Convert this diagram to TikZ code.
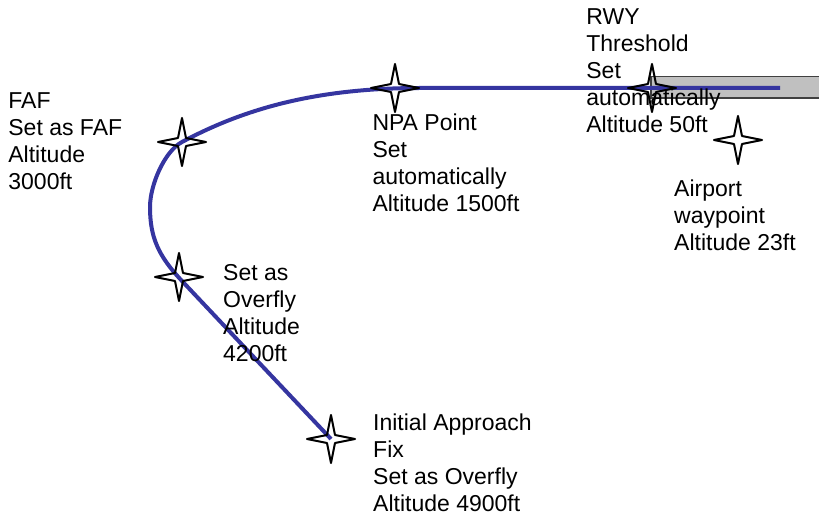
\documentclass[tikz,border=0pt]{standalone}
\usepackage{fontspec}
\setmainfont{Liberation Sans}
\definecolor{routeblue}{HTML}{3535A0}
\definecolor{runwaygray}{HTML}{C0C0C0}
\begin{document}
\begin{tikzpicture}[x=1pt,y=-1pt,
  route/.style={draw=routeblue, line width=4pt},
  starline/.style={draw=black, line width=2pt, line join=round},
  wptext/.style={anchor=north west, inner sep=0pt, align=left,
    font=\fontsize{23}{27}\selectfont},
  waypoint/.pic={\path[starline] (0,-24)--(4,-4)--(24,0)--(4,4)--(0,24)
    --(-4,4)--(-24,0)--(-4,-4)--cycle;}]
\useasboundingbox (0,0) rectangle (819,518);

% runway strip
\begin{scope}
  \clip (0,0) rectangle (819,518);
  \draw[fill=runwaygray, draw=black!75, line width=1.2pt]
    (651,76.5) rectangle (840,98);
\end{scope}

% waypoints and route geometry
\coordinate (iaf) at (331,439);
\coordinate (ovf) at (179,277);
\coordinate (faf) at (182,142);
\coordinate (npa) at (395,88);
\coordinate (thr) at (652,88);
\coordinate (apt) at (738,140);
\coordinate (turnin) at (182,281);
\coordinate (west) at (150,207);
\coordinate (level) at (420,88);
\coordinate (routeend) at (780,88);

% approach route
\draw[route] (iaf) -- (turnin)
  .. controls (158,255.6) and (150,237) .. (west)
  .. controls (150,185) and (164.4,151.4) .. (faf)
  .. controls (239.2,111.5) and (310,88) .. (level)
  -- (routeend);

% waypoint symbols
\pic at (iaf) {waypoint};
\pic at (ovf) {waypoint};
\pic at (faf) {waypoint};
\pic at (npa) {waypoint};
\pic at (thr) {waypoint};
\pic at (apt) {waypoint};

% waypoint descriptions
\node[wptext] (lfaf) at (8.2,92.5) {FAF\\Set as FAF\\Altitude\\3000ft};
\node[wptext] (lnpa) at (372.3,113.5) {NPA Point\\Set\\automatically\\Altitude 1500ft};
\node[wptext] (lrwy) at (586.2,8.5) {RWY\\Threshold\\Set\\automatically\\Altitude 50ft};
\node[wptext] (lapt) at (674,179.5) {Airport\\waypoint\\Altitude 23ft};
\node[wptext] (lovf) at (223,264.5) {Set as\\Overfly\\Altitude\\4200ft};
\node[wptext] (liaf) at (373,413.5) {Initial Approach\\Fix\\Set as Overfly\\Altitude 4900ft};
\end{tikzpicture}
\end{document}
